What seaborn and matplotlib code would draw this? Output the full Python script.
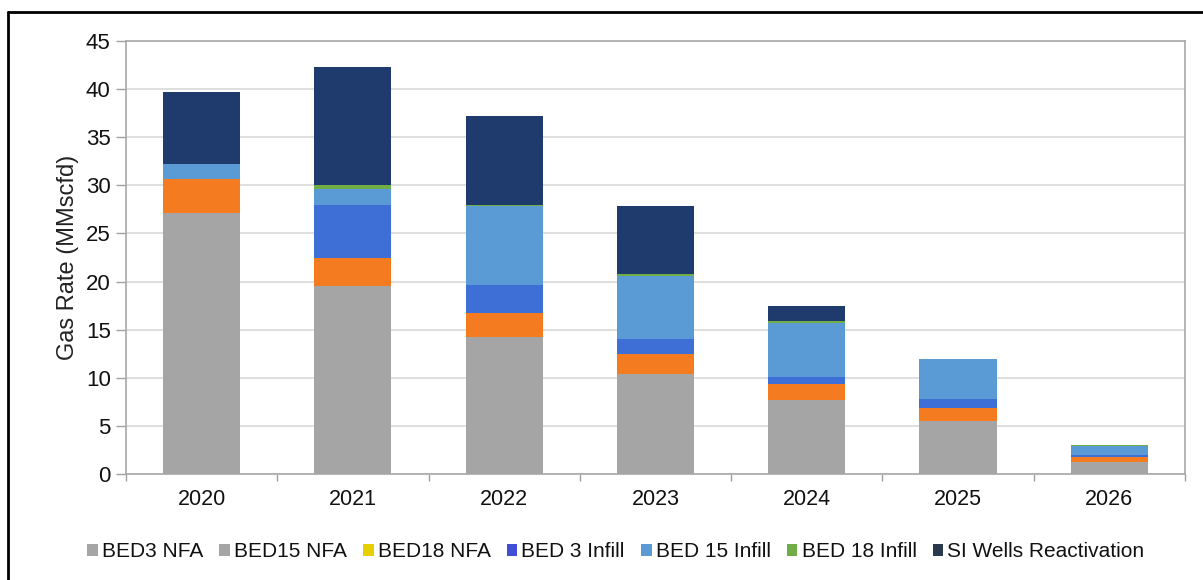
import numpy as np
import pandas as pd
import matplotlib
matplotlib.use("Agg")
import matplotlib.pyplot as plt
from matplotlib.lines import Line2D
from matplotlib.patches import Patch
import seaborn as sns

# Forecast gas rate by source (MMscfd)
years = ["2020", "2021", "2022", "2023", "2024", "2025", "2026"]
bed3_nfa = [27.1, 19.5, 14.2, 10.4, 7.7, 5.5, 1.25]
bed15_nfa = [3.6, 2.9, 2.5, 2.1, 1.6, 1.4, 0.5]
bed18_nfa = [0.0, 0.0, 0.0, 0.0, 0.0, 0.0, 0.0]
bed3_infill = [0.0, 5.6, 2.9, 1.5, 0.8, 0.9, 0.2]
bed15_infill = [1.5, 1.6, 8.2, 6.6, 5.6, 4.1, 1.0]
bed18_infill = [0.0, 0.4, 0.2, 0.2, 0.2, 0.1, 0.1]
si_wells = [7.5, 12.3, 9.2, 7.0, 1.6, 0.0, 0.0]

series_names = ["BED3 NFA", "BED15 NFA", "BED18 NFA", "BED 3 Infill",
                "BED 15 Infill", "BED 18 Infill", "SI Wells Reactivation"]
series_values = [bed3_nfa, bed15_nfa, bed18_nfa, bed3_infill,
                 bed15_infill, bed18_infill, si_wells]
bar_colors = ["#a5a5a5", "#f47b20", "#ffc000", "#3e6fd6",
              "#5b9bd5", "#70ad47", "#1f3a6c"]
legend_colors = ["#a5a5a5", "#a5a5a5", "#e8d000", "#3e4fd6",
                 "#5b9bd5", "#70ad47", "#2a3a4e"]

sns.set_theme(style="white")
plt.rcParams["font.family"] = ["Liberation Sans", "DejaVu Sans"]

fig = plt.figure(figsize=(12.03, 5.80), dpi=100)
ax = fig.add_axes([0.1047, 0.1828, 0.8803, 0.7465])

bottom = np.zeros(len(years))
for name, vals, col in zip(series_names, series_values, bar_colors):
    df = pd.DataFrame({"year": years, "value": vals})
    sns.barplot(data=df, x="year", y="value", order=years, color=col,
                width=0.51, bottom=bottom.copy(), linewidth=0,
                saturation=1, errorbar=None, ax=ax, zorder=3)
    bottom += np.array(vals)

ax.set_ylim(0, 45)
ax.set_xlim(-0.5, len(years) - 0.5)
ax.set_yticks(np.arange(0, 46, 5))
ax.yaxis.grid(True, color="#d9d9d9", linewidth=1.2, zorder=0)
ax.set_axisbelow(True)

ax.set_xlabel("")
ax.set_ylabel("Gas Rate (MMscfd)", fontsize=17, color="#222222", labelpad=5)
ax.tick_params(axis="y", labelsize=16, labelcolor="#111111", direction="out",
               length=7, width=1, color="#a0a0a0", left=True, pad=4)
ax.tick_params(axis="x", which="major", labelsize=15.5, labelcolor="#111111",
               length=0, pad=11)
ax.set_xticks(np.arange(-0.5, len(years), 1.0), minor=True)
ax.tick_params(axis="x", which="minor", direction="out", length=5, width=1,
               color="#a0a0a0", bottom=True)

for side in ["left", "right", "top", "bottom"]:
    ax.spines[side].set_visible(True)
    ax.spines[side].set_color("#a8a8a8")
    ax.spines[side].set_linewidth(1.2)

handles = [Patch(facecolor=c, edgecolor="none") for c in legend_colors]
fig.legend(handles, series_names, loc="center", bbox_to_anchor=(0.512, 0.049),
           ncol=7, frameon=False, fontsize=15, handlelength=0.5,
           handleheight=0.5, handletextpad=0.2, columnspacing=0.78,
           labelcolor="#111111")

# outer frame lines along the top and left edges
fig.add_artist(Line2D([8 / 1203, 1.0], [1 - 12 / 580, 1 - 12 / 580],
                      transform=fig.transFigure, color="black", linewidth=2))
fig.add_artist(Line2D([8 / 1203, 8 / 1203], [0.0, 1 - 12 / 580],
                      transform=fig.transFigure, color="black", linewidth=2))

fig.savefig("out.png", dpi=100)
